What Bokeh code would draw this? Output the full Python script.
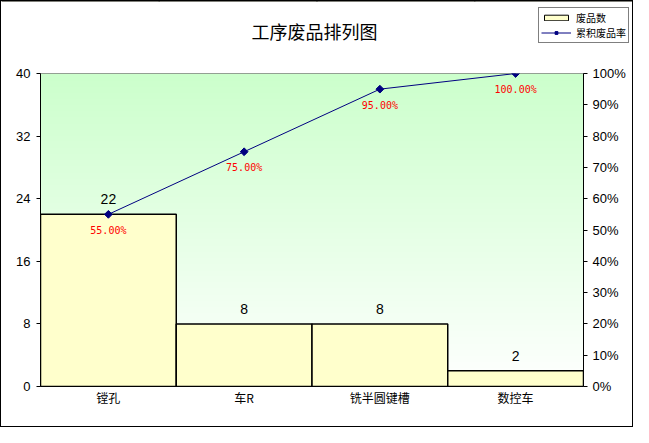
import numpy as np
from bokeh.plotting import figure
from bokeh.layouts import column
from bokeh.models import (Range1d, LinearAxis, FixedTicker, NumeralTickFormatter,
                          Legend, LegendItem, ColumnDataSource, Label)
from bokeh.core.properties import value
from bokeh.embed import file_html
from bokeh.resources import INLINE

# ---- data ----
categories = ["镗孔", "车R", "铣半圆键槽", "数控车"]
counts = [22, 8, 8, 2]
cum_pct = [0.55, 0.75, 0.95, 1.00]
pct_labels = ["55.00%", "75.00%", "95.00%", "100.00%"]
count_labels = ["22", "8", "8", "2"]
left_ticks = [0, 8, 16, 24, 32, 40]
right_ticks = [0.0, 0.1, 0.2, 0.3, 0.4, 0.5, 0.6, 0.7, 0.8, 0.9, 1.0]
title_text = "工序废品排列图"
legend_bar = "废品数"
legend_line = "累积废品率"

CJK = "Noto Sans CJK SC"
NUM = "Liberation Sans"
BAR_FILL = "#ffffcc"
LINE_COLOR = "#000080"

n = len(categories)
xs = [i + 0.5 for i in range(n)]
ymax = left_ticks[-1]

W = 631
TOP_H = 62
MAIN_H = 363

src = ColumnDataSource(dict(x=xs, counts=counts, cum=cum_pct, pl=pct_labels, cl=count_labels))


def no_align(fig):
    if "frame_align" in fig.properties():
        fig.frame_align = False


# ---------- header: title + legend ----------
# its ranges lie below the data, so the legend's renderers draw nothing here
top = figure(width=W, height=TOP_H, output_backend="svg", toolbar_location=None,
             x_range=Range1d(0, n), y_range=Range1d(-2, -1),
             x_axis_location=None, y_axis_location=None,
             min_border=0, min_border_left=0, min_border_right=0,
             min_border_top=0, min_border_bottom=0)
no_align(top)
top.outline_line_color = None
top.background_fill_color = "white"
top.border_fill_color = "white"
top.xgrid.visible = False
top.ygrid.visible = False

top.add_layout(Label(x=313, y=TOP_H - 29, x_units="screen", y_units="screen", text=title_text,
                     text_align="center", text_baseline="middle", text_font=CJK,
                     text_font_size="18px", text_color="black"))

lb = top.vbar(x="x", top="counts", width=1, source=src, fill_color=BAR_FILL,
              line_color="black", line_width=1)
ll = top.line(x="x", y="cum", source=src, line_color=LINE_COLOR, line_width=1)
lp = top.scatter(x="x", y="cum", source=src, marker="square", angle=np.pi / 4, size=5,
                 fill_color=LINE_COLOR, line_color=LINE_COLOR)
legend = Legend(items=[LegendItem(label=legend_bar, renderers=[lb]),
                       LegendItem(label=legend_line, renderers=[ll, lp])],
                location=(537, 20), glyph_width=30, glyph_height=7, label_height=12,
                label_standoff=5, spacing=0, padding=2, margin=0,
                label_text_font=CJK, label_text_font_size="10px", label_text_color="black",
                border_line_color="black", border_line_width=1,
                background_fill_color="white", background_fill_alpha=1)
top.add_layout(legend, "center")

# ---------- main chart ----------
p = figure(width=W, height=MAIN_H, output_backend="svg", toolbar_location=None,
           x_range=Range1d(0, n), y_range=Range1d(0, ymax),
           min_border_left=39, min_border_right=49, min_border_top=10, min_border_bottom=40)
no_align(p)
p.extra_y_ranges = {"pct": Range1d(0, 1)}
p.background_fill_color = "white"
p.border_fill_color = "white"
p.outline_line_color = "#808080"
p.xgrid.visible = False
p.ygrid.visible = False

# gradient background (decoration)
H = 320
t = np.linspace(0, 1, H)
r = (255 - (255 - 204) * t).astype(np.uint32)
g = np.full(H, 255, dtype=np.uint32)
b = (255 - (255 - 204) * t).astype(np.uint32)
a = np.full(H, 255, dtype=np.uint32)
img = ((a << 24) | (b << 16) | (g << 8) | r).reshape(H, 1)
p.image_rgba(image=[img], x=0, y=0, dw=n, dh=ymax)

p.vbar(x="x", top="counts", width=1, bottom=0, source=src,
       fill_color=BAR_FILL, line_color="black", line_width=1.5)
p.line(x="x", y="cum", source=src, y_range_name="pct", line_color=LINE_COLOR, line_width=1)
p.scatter(x="x", y="cum", source=src, y_range_name="pct", marker="square", angle=np.pi / 4,
          size=5.5, fill_color=LINE_COLOR, line_color=LINE_COLOR)

p.text(x="x", y="counts", text="cl", source=src, text_align="center", text_baseline="alphabetic",
       y_offset=-15, text_font=value(NUM), text_font_size="14px", text_color="black")
p.text(x="x", y="cum", text="pl", source=src, y_range_name="pct", text_align="center",
       text_baseline="middle", y_offset=16, text_font=value("DejaVu Sans Mono"),
       text_font_size="10px", text_color="red")

# axes
xa = p.xaxis[0]
xa.ticker = FixedTicker(ticks=xs)
xa.major_label_overrides = {x: c for x, c in zip(xs, categories)}
xa.major_tick_out = 0
xa.major_tick_in = 0
xa.major_tick_line_color = None
xa.minor_tick_line_color = None
xa.axis_line_color = "black"
xa.major_label_text_font = CJK
xa.major_label_text_font_size = "12px"
xa.major_label_text_color = "black"
xa.major_label_standoff = 2

ya = p.yaxis[0]
ya.ticker = FixedTicker(ticks=left_ticks)
ya.minor_tick_line_color = None
ya.major_tick_in = 0
ya.major_tick_out = 4
ya.major_tick_line_color = "black"
ya.axis_line_color = "black"
ya.major_label_text_font = NUM
ya.major_label_text_font_size = "13px"
ya.major_label_text_color = "black"
ya.major_label_standoff = 6

ra = LinearAxis(y_range_name="pct", ticker=FixedTicker(ticks=right_ticks),
                formatter=NumeralTickFormatter(format="0%"))
ra.minor_tick_line_color = None
ra.major_tick_in = 0
ra.major_tick_out = 4
ra.major_tick_line_color = "black"
ra.axis_line_color = "black"
ra.major_label_text_font = NUM
ra.major_label_text_font_size = "13px"
ra.major_label_text_color = "black"
ra.major_label_standoff = 5
p.add_layout(ra, "right")

layout = column(top, p, spacing=0)
layout.styles = {"border": "1px solid black", "background-color": "white"}

open("out.html", "w").write(file_html(layout, INLINE))
